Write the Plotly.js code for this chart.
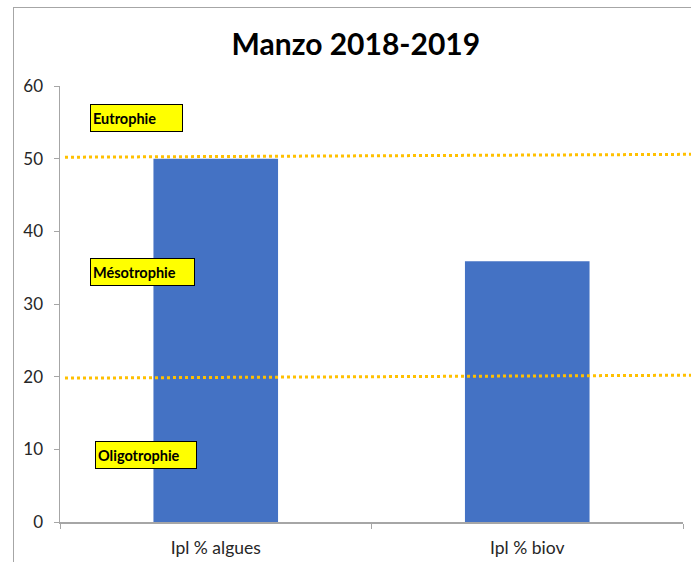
<!DOCTYPE html>
<html><head><meta charset="utf-8">
<script src="https://cdn.plot.ly/plotly-3.0.1.min.js"></script>
<style>
html,body{margin:0;padding:0;background:#fff;}
#wrap{position:relative;width:691px;height:562px;overflow:hidden;}
#chart{position:absolute;left:0;top:0;width:691px;height:562px;}
#frame{position:absolute;left:13px;top:7px;width:700px;height:600px;border-left:1.5px solid #a6a6a6;border-top:1.5px solid #a6a6a6;pointer-events:none;}
</style></head>
<body><div id="wrap"><div id="chart"></div><div id="frame"></div></div>
<script>
var categories = ["Ipl % algues", "Ipl % biov"];
var values = [50, 35.9];
var eutrophieLine = [50.2, 50.6];      // left, right ends of dotted threshold
var oligotrophieLine = [19.8, 20.2];
var zoneLabels = ["Eutrophie", "Mésotrophie", "Oligotrophie"];
var zoneLabelY = [55.6, 34.4, 9.2];
var yTicks = [0, 10, 20, 30, 40, 50, 60];

var trace = {
  type: 'bar', x: categories, y: values,
  marker: {color: '#4472C4'}, hoverinfo: 'none'
};

function lineShape(vals){
  return {type:'line', xref:'paper', yref:'y', x0:0.008, x1:1.013, y0:vals[0], y1:vals[1],
    line:{color:'#FFC000', width:3, dash:'dot'}, layer:'above'};
}

var labelX = [0.048, 0.048, 0.056];
var labelW = [87, 99, 96];
var annotations = zoneLabels.map(function(t,i){
  return {text:'<b>'+t+'</b>', xref:'paper', yref:'y', x:labelX[i], y:zoneLabelY[i],
    xanchor:'left', yanchor:'middle', showarrow:false, align:'left', width:labelW[i], height:22,
    bgcolor:'#FFFF00', bordercolor:'#000000', borderwidth:1, borderpad:2,
    font:{family:'Lato, Carlito, sans-serif', size:14.5, color:'#000'}};
});

var layout = {
  width:691, height:562,
  margin:{l:60, r:8, t:86, b:40},
  paper_bgcolor:'#fff', plot_bgcolor:'#fff',
  showlegend:false,
  bargap:0.6,
  title:{text:'<b>Manzo 2018-2019</b>', x:0.515, xanchor:'center', y:0.92, yanchor:'middle',
    font:{family:'Lato, Carlito, sans-serif', size:30, color:'#000'}},
  xaxis:{type:'category', showline:true, linecolor:'#a6a6a6', linewidth:1.5,
    ticks:'outside', tickson:'boundaries', ticklen:5, tickcolor:'#a6a6a6', ticklabelstandoff:9,
    tickfont:{family:'Lato, Carlito, sans-serif', size:17.5, color:'#262626'}, showgrid:false},
  yaxis:{range:[0,60], tickvals:yTicks, showline:true, linecolor:'#a6a6a6', linewidth:1.5,
    ticks:'outside', ticklen:5, tickcolor:'#a6a6a6', showgrid:false, zeroline:false, ticklabelstandoff:7,
    tickfont:{family:'Lato, Carlito, sans-serif', size:17, color:'#262626'}},
  shapes:[lineShape(eutrophieLine), lineShape(oligotrophieLine)],
  annotations:annotations
};
Plotly.newPlot('chart', [trace], layout, {displayModeBar:false, staticPlot:true});
</script></body></html>
